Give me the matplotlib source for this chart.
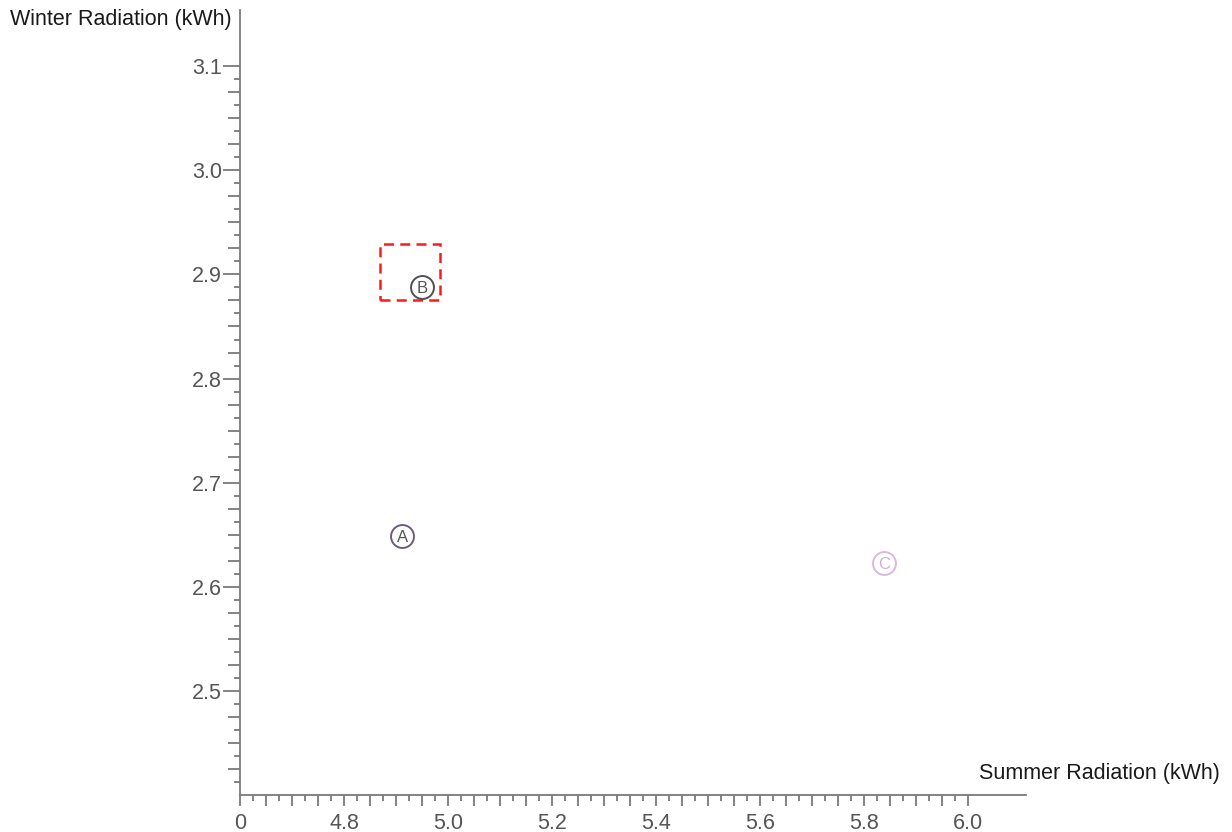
import matplotlib
matplotlib.use("Agg")
import matplotlib.pyplot as plt
from matplotlib.patches import Rectangle
import numpy as np

plt.rcParams['font.family'] = ['Liberation Sans', 'DejaVu Sans']

# data
labels = ["A", "B", "C"]
summer = [4.912, 4.950, 5.838]
winter = [2.649, 2.8875, 2.623]
edge_colors = ["#6b5a82", "#4f4f55", "#d9b9de"]
text_colors = ["#555555", "#555555", "#cfb0d6"]

highlight_x = [4.869, 4.985]
highlight_y = [2.875, 2.929]

x_label_pos = [4.6, 4.8, 5.0, 5.2, 5.4, 5.6, 5.8, 6.0]
x_label_txt = ["0", "4.8", "5.0", "5.2", "5.4", "5.6", "5.8", "6.0"]
y_label_pos = [2.5, 2.6, 2.7, 2.8, 2.9, 3.0, 3.1]
y_label_txt = ["2.5", "2.6", "2.7", "2.8", "2.9", "3.0", "3.1"]

W, H = 1232, 832
fig = plt.figure(figsize=(W / 100, H / 100), dpi=100)
left, right, top, bottom = 240, 1026, 10, 795
ax = fig.add_axes([left / W, (H - bottom) / H, (right - left) / W, (bottom - top) / H])
ax.set_xlim(4.6, 6.111)
ax.set_ylim(2.4, 3.154)

axis_col = "#7a7a7a"
for s in ["top", "right"]:
    ax.spines[s].set_visible(False)
for s in ["left", "bottom"]:
    ax.spines[s].set_color(axis_col)
    ax.spines[s].set_linewidth(1.3)


def label_list(vals, pos, txt):
    out = []
    for v in vals:
        t = ""
        for p, s in zip(pos, txt):
            if abs(v - p) < 1e-6:
                t = s
        out.append(t)
    return out


# ticks
xmaj = np.round(np.arange(4.6, 6.0001, 0.05), 4)
xmin = np.round(np.arange(4.625, 6.0001, 0.05), 4)
ax.set_xticks(xmaj)
ax.set_xticks(xmin, minor=True)
ax.set_xticklabels(label_list(xmaj, x_label_pos, x_label_txt))

ymaj = np.round(np.arange(2.425, 3.1001, 0.025), 4)
ymin = np.round(np.arange(2.4125, 3.1001, 0.025), 4)
ax.set_yticks(ymaj)
ax.set_yticks(ymin, minor=True)
ylab = label_list(ymaj, y_label_pos, y_label_txt)
ax.set_yticklabels(ylab)

ax.tick_params(axis="both", which="major", length=9, width=1.3, color=axis_col,
               labelsize=15.5, labelcolor="#555555", direction="out")
ax.tick_params(axis="both", which="minor", length=4.5, width=1.3, color=axis_col, direction="out")
ax.tick_params(axis="x", which="major", length=8, pad=5)
ax.tick_params(axis="y", which="major", pad=4)

# labelled y ticks slightly longer
for tk, t in zip(ax.yaxis.get_major_ticks(), ylab):
    if t:
        tk.tick1line.set_markersize(12)

# points
for lab, x, y, ec, tc in zip(labels, summer, winter, edge_colors, text_colors):
    ax.plot(x, y, marker="o", markersize=16.5, markerfacecolor="white",
            markeredgecolor=ec, markeredgewidth=1.4, linestyle="none", zorder=3)
    ax.text(x, y, lab, ha="center", va="center_baseline", fontsize=12, color=tc, zorder=4)

# highlight rectangle
ax.add_patch(Rectangle((highlight_x[0], highlight_y[0]), highlight_x[1] - highlight_x[0],
                       highlight_y[1] - highlight_y[0], fill=False, edgecolor="#ff1a1a",
                       linestyle=(0, (4, 2.5)), linewidth=1.8, zorder=2))

# axis labels
fig.text(10 / W, 1 - 20 / H, "Winter Radiation (kWh)", ha="left", va="center",
         fontsize=15.5, color="#1a1a1a")
fig.text(1220 / W, 1 - 773 / H, "Summer Radiation (kWh)", ha="right", va="center",
         fontsize=15.5, color="#1a1a1a")

fig.savefig("out.png", dpi=100, facecolor="white")
